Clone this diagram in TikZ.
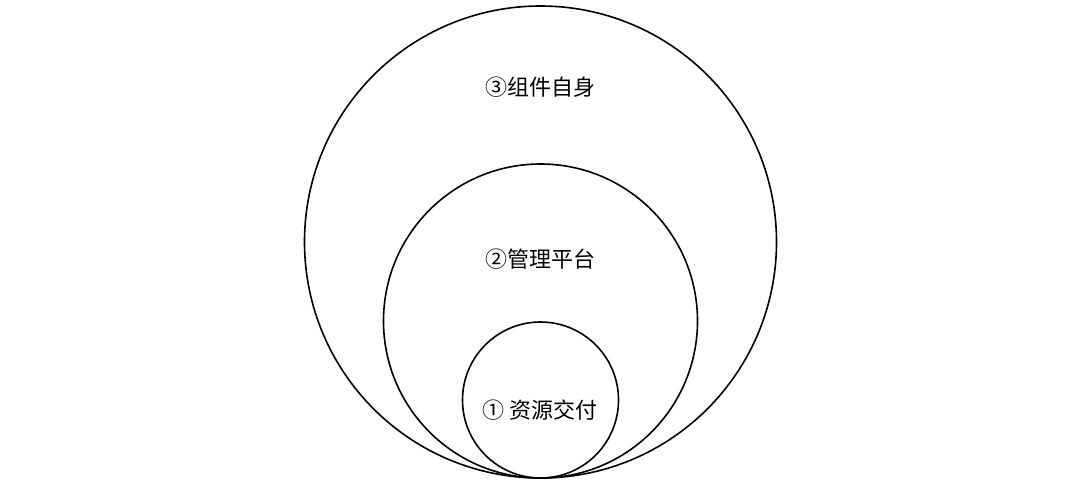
\documentclass[tikz,border=0pt]{standalone}
\usepackage{fontspec}
\newfontfamily\cjk{Noto Sans CJK SC}
\begin{document}
\begin{tikzpicture}[x=1pt,y=-1pt,
  ring/.style={draw=black,line width=1.6pt},
  lbl/.style={font=\cjk\fontsize{22}{25}\selectfont,inner sep=0pt}]
\useasboundingbox (0,0) rectangle (1080,485);
\draw[ring] (540.5,242) circle (236);
\draw[ring] (540.5,321) circle (157);
\draw[ring] (540.5,400) circle (78);
\node[lbl] (c3) at (540,87) {③组件自身};
\node[lbl] (c2) at (540,259) {②管理平台};
\node[lbl] (c1) at (540,410) {① 资源交付};
\end{tikzpicture}
\end{document}
